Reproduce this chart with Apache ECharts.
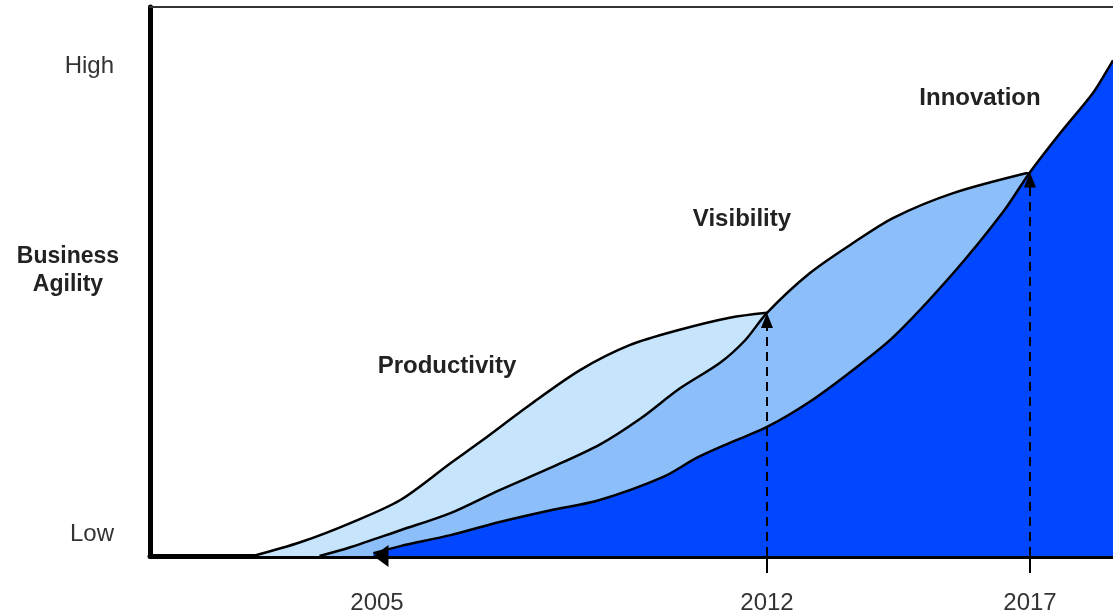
<!DOCTYPE html>
<html><head><meta charset="utf-8">
<script src="https://cdn.jsdelivr.net/npm/echarts@6/dist/echarts.min.js"></script>
<style>html,body{margin:0;padding:0;background:#fff}#c{width:1113px;height:612px}</style>
</head><body><div id="c"></div>
<script>
// Stage years on a normalised 0-100 timeline
const tickPositions = [23.57, 64.07, 91.38];
const tickLabels = ['2005', '2012', '2017'];
// Business-agility levels on a 0-100 scale
const levelPositions = [4.0, 89.2];
const levelLabels = ['Low', 'High'];
const stageNames = ['Productivity', 'Visibility', 'Innovation'];
const yAxisTitle = 'Business\nAgility';

const productivityX = [10.7, 15.6, 20.8, 26.0, 31.2, 34.3, 39.5, 44.7, 49.8, 55.0, 60.2, 64.07];
const productivityY = [0, 2.5, 6.0, 10.2, 16.9, 20.8, 27.6, 33.9, 38.4, 41.2, 43.4, 44.3];

const visibilityX = [17.6, 20.8, 26.0, 31.2, 36.3, 41.5, 46.7, 50.9, 55.0, 59.2, 61.8, 64.07, 68.5, 73.0, 77.2, 83.4, 91.38];
const visibilityY = [0, 1.6, 4.7, 7.8, 12.0, 16.0, 20.3, 25.0, 30.5, 35.2, 39.3, 44.3, 51.5, 57.0, 61.6, 66.1, 69.9];

const innovationX = [23.2, 26.0, 31.2, 36.3, 41.5, 46.7, 53.3, 56.8, 60.2, 64.07, 68.5, 73.0, 77.2, 83.4, 88.6, 91.38, 94.5, 97.9, 99.4, 100];
const innovationY = [0.5, 1.8, 3.8, 6.2, 8.3, 10.2, 14.4, 17.9, 20.6, 23.5, 28.1, 33.9, 39.9, 51.5, 62.7, 69.9, 77.0, 84.3, 88.5, 90.3];

const zip = (xs, ys) => xs.map((x, i) => [x, ys[i]]);
const valueAt = (xs, ys, x) => ys[xs.indexOf(x)];

const chart = echarts.init(document.getElementById('c'));
const textColor = '#333';
const font = 'Liberation Sans, Arial, sans-serif';

function areaSeries(name, xs, ys, color, extra) {
  return Object.assign({
    name, type: 'line', data: zip(xs, ys),
    smooth: 0.3, symbol: 'none',
    lineStyle: { color: '#000', width: 2.5 },
    areaStyle: { color: color, opacity: 1 },
    silent: true, animation: false
  }, extra || {});
}

const arrowTop1 = valueAt(visibilityX, visibilityY, tickPositions[1]);
const arrowTop2 = valueAt(innovationX, innovationY, tickPositions[2]);

const option = {
  backgroundColor: '#fff',
  animation: false,
  grid: { left: 150, right: 0, top: 7, bottom: 56, outerBoundsMode: 'none', containLabel: false },
  xAxis: [{
    type: 'value', min: 0, max: 100,
    axisLine: { lineStyle: { color: '#000', width: 5 } },
    axisTick: { show: true, customValues: tickPositions.slice(1), length: 17, lineStyle: { color: '#000', width: 2 } },
    axisLabel: {
      customValues: tickPositions, margin: 35, color: textColor, fontSize: 24, fontFamily: font,
      formatter: v => tickLabels[tickPositions.indexOf(v)]
    },
    splitLine: { show: false }
  }, {
    type: 'value', position: 'top', min: 0, max: 100,
    axisLine: { show: true, lineStyle: { color: '#333', width: 2 } },
    axisTick: { show: false }, axisLabel: { show: false }, splitLine: { show: false }
  }],
  yAxis: {
    type: 'value', min: 0, max: 100,
    axisLine: { show: true, lineStyle: { color: '#000', width: 5 } },
    axisTick: { show: false },
    axisLabel: {
      customValues: levelPositions, margin: 36, color: textColor, fontSize: 24, fontFamily: font,
      formatter: v => levelLabels[levelPositions.indexOf(v)]
    },
    splitLine: { show: false }
  },
  series: [
    areaSeries(stageNames[0], productivityX, productivityY, '#c6e5fd'),
    areaSeries(stageNames[1], visibilityX, visibilityY, '#8cbff9'),
    areaSeries(stageNames[2], innovationX, innovationY, '#0047ff', {
      markLine: {
        silent: true, animation: false,
        symbol: ['none', 'triangle'], symbolSize: [12, 15],
        label: { show: false },
        lineStyle: { color: '#000', width: 2, type: [9, 6] },
        data: [
          [{ coord: [tickPositions[1], 0] }, { coord: [tickPositions[1], arrowTop1 - 1.4] }],
          [{ coord: [tickPositions[2], 0] }, { coord: [tickPositions[2], arrowTop2 - 1.4] }]
        ]
      },
      markPoint: {
        silent: true, animation: false,
        symbol: 'path://M0,5 L10,0 L10,10 Z', symbolSize: [15, 22], symbolOffset: [4, 0],
        itemStyle: { color: '#000' }, label: { show: false },
        data: [{ coord: [tickPositions[0], 0] }]
      }
    })
  ],
  graphic: [
    { type: 'text', x: 68, y: 271, style: { text: yAxisTitle, fill: '#222', font: 'bold 23px ' + font, align: 'center', verticalAlign: 'middle', lineHeight: 28 } },
    { type: 'text', x: 447, y: 366, style: { text: stageNames[0], fill: '#222', font: 'bold 24px ' + font, align: 'center', verticalAlign: 'middle' } },
    { type: 'text', x: 742, y: 219, style: { text: stageNames[1], fill: '#222', font: 'bold 24px ' + font, align: 'center', verticalAlign: 'middle' } },
    { type: 'text', x: 980, y: 98, style: { text: stageNames[2], fill: '#222', font: 'bold 24px ' + font, align: 'center', verticalAlign: 'middle' } }
  ]
};
chart.setOption(option);
</script>
</body></html>
